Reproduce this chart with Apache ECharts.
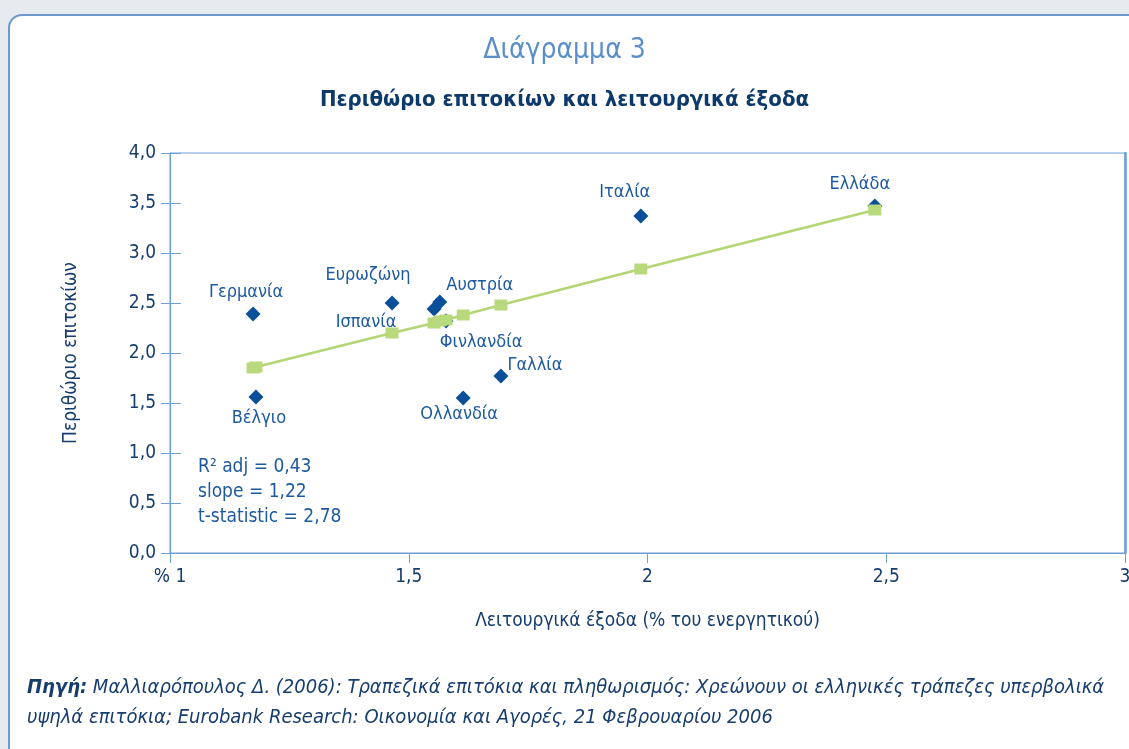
<!DOCTYPE html>
<html>
<head>
<meta charset="utf-8">
<style>
  html, body { margin: 0; padding: 0; background: #e5ebef; width: 1129px; height: 749px; overflow: hidden; }
  #panel { position: absolute; left: 8px; top: 14px; width: 1160px; height: 760px; background: #fff;
           border: 2px solid #6d99cc; border-radius: 14px; box-sizing: border-box; }
  #main { position: absolute; left: 0; top: 0; width: 1129px; height: 749px; }
</style>
<script src="https://cdn.jsdelivr.net/npm/echarts@6/dist/echarts.min.js"></script>
</head>
<body>
<div id="panel"></div>
<div id="main"></div>
<script>
// χώρες και τιμές (διαβασμένες από το διάγραμμα)
const countries = ['Γερμανία', 'Βέλγιο', 'Ευρωζώνη', 'Ισπανία', 'Αυστρία', 'Φινλανδία', 'Ολλανδία', 'Γαλλία', 'Ιταλία', 'Ελλάδα']
const costs = [1.174, 1.180, 1.465, 1.553, 1.565, 1.578, 1.614, 1.693, 1.986, 2.476]
const margins = [2.39, 1.56, 2.50, 2.44, 2.51, 2.32, 1.55, 1.77, 3.37, 3.47]
const fitted = [1.85, 1.86, 2.20, 2.30, 2.32, 2.33, 2.38, 2.48, 2.84, 3.43]
const xTickLabels = ['% 1', '1,5', '2', '2,5', '3']
const yTickLabels = ['0,0', '0,5', '1,0', '1,5', '2,0', '2,5', '3,0', '3,5', '4,0']
const statsLines = ['R² adj = 0,43', 'slope = 1,22', 't-statistic = 2,78']

const FONT = '"Liberation Sans Narrow", "DejaVu Sans Condensed", "Liberation Sans", sans-serif'
const NAVY = '#163d6e'
const BLUE = '#1d5aa0'
const AXIS = '#6d9fd4'

// θέσεις ετικετών γύρω από τα σημεία
const labelOffset = {
    'Γερμανία': [-7, -22], 'Βέλγιο': [3, 21], 'Ευρωζώνη': [-24, -28], 'Ισπανία': [-68, 13],
    'Αυστρία': [40, -17], 'Φινλανδία': [35, 21], 'Ολλανδία': [-4, 16], 'Γαλλία': [34, -11],
    'Ιταλία': [-16, -24], 'Ελλάδα': [-15, -22]
}

const scatterData = countries.map((c, i) => ({
    name: c,
    value: [costs[i], margins[i]],
    label: { offset: labelOffset[c] }
}))
const lineData = costs.map((x, i) => [x, fitted[i]])

const chart = echarts.init(document.getElementById('main'))

const option = {
    backgroundColor: 'transparent',
    textStyle: { fontFamily: FONT },
    title: [
        { text: 'Διάγραμμα 3', left: 'center', top: 32,
          textStyle: { color: '#5b8fc9', fontSize: 28, fontWeight: 'normal', fontFamily: FONT } },
        { text: 'Περιθώριο επιτοκίων και λειτουργικά έξοδα', left: 'center', top: 84,
          textStyle: { color: '#0d3a6b', fontSize: 22, fontWeight: 'bold', fontFamily: FONT } }
    ],
    grid: { left: 170, right: 4, top: 153, bottom: 196, outerBoundsMode: 'none',
            show: true, borderColor: AXIS, borderWidth: 1 },
    xAxis: {
        type: 'value', min: 1, max: 3, interval: 0.5,
        name: 'Λειτουργικά έξοδα (% του ενεργητικού)', nameLocation: 'middle', nameGap: 59,
        nameTextStyle: { color: NAVY, fontSize: 19, fontFamily: FONT },
        axisLine: { lineStyle: { color: AXIS, width: 1 } },
        axisTick: { show: true, length: 10, lineStyle: { color: AXIS } },
        splitLine: { show: false },
        axisLabel: { color: NAVY, fontSize: 19, margin: 15, fontFamily: FONT,
                     formatter: (v, i) => xTickLabels[i] }
    },
    yAxis: [{
        type: 'value', min: 0, max: 4, interval: 0.5,
        name: 'Περιθώριο επιτοκίων', nameLocation: 'middle', nameGap: 89,
        nameTextStyle: { color: NAVY, fontSize: 19, fontFamily: FONT },
        axisLine: { show: true, lineStyle: { color: AXIS, width: 1 } },
        axisTick: { show: true, length: 9, lineStyle: { color: AXIS } },
        splitLine: { show: false },
        axisLabel: { color: NAVY, fontSize: 19, margin: 14, fontFamily: FONT,
                     formatter: (v, i) => yTickLabels[i] }
    }, {
        type: 'value', min: 0, max: 4, interval: 0.5, position: 'left',
        axisLine: { show: false },
        axisTick: { show: true, inside: true, length: 11, lineStyle: { color: AXIS } },
        axisLabel: { show: false },
        splitLine: { show: false }
    }, {
        type: 'value', min: 0, max: 4, interval: 0.5, position: 'right',
        axisLine: { show: true, lineStyle: { color: AXIS, width: 2.5 } },
        axisTick: { show: false },
        axisLabel: { show: false },
        splitLine: { show: false }
    }],
    graphic: statsLines.map((t, i) => ({
        type: 'text', left: 198, top: 458 + i * 25,
        style: { text: t, fill: BLUE, font: '19px ' + FONT }
    })).concat([{
        type: 'text', left: 27, top: 673,
        style: {
            text: '{b|Πηγή:} Μαλλιαρόπουλος Δ. (2006): Τραπεζικά επιτόκια και πληθωρισμός: Χρεώνουν οι ελληνικές τράπεζες υπερβολικά\nυψηλά επιτόκια; Eurobank Research: Οικονομία και Αγορές, 21 Φεβρουαρίου 2006',
            fill: NAVY, font: 'italic 20px ' + FONT, lineHeight: 30,
            rich: { b: { fontWeight: 'bold', fontStyle: 'italic', fontSize: 20, fontFamily: FONT, fill: NAVY } }
        }
    }]),
    series: [{
        type: 'scatter',
        symbol: 'diamond',
        symbolSize: 15,
        itemStyle: { color: '#0a4f9a', opacity: 1 },
        data: scatterData,
        label: { show: true, position: 'inside', formatter: '{b}', color: BLUE, fontSize: 18, fontFamily: FONT },
        z: 3
    }, {
        type: 'line',
        data: lineData,
        symbol: 'rect',
        symbolSize: [13, 11],
        showSymbol: true,
        lineStyle: { color: '#b3d574', width: 2.5 },
        itemStyle: { color: '#b8d97c' },
        z: 4
    }]
}

chart.setOption(option)
</script>
</body>
</html>
